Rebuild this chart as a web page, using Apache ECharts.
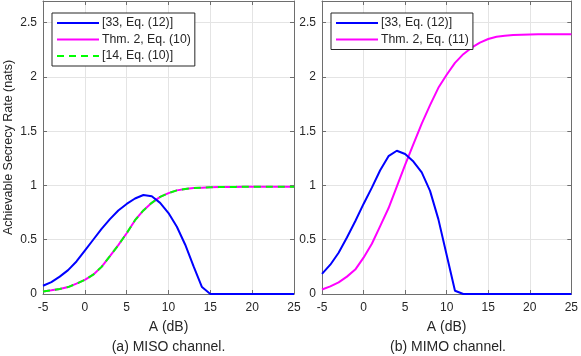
<!DOCTYPE html>
<html>
<head>
<meta charset="utf-8">
<script src="https://cdn.jsdelivr.net/npm/echarts@6/dist/echarts.min.js"></script>
<style>
  html, body { margin: 0; padding: 0; background: #fff; }
  #chart { width: 581px; height: 356px; }
</style>
</head>
<body>
<div id="chart"></div>
<script>
// A (dB) sample points
const snrDb = [-5, -4, -3, -2, -1, 0, 1, 2, 3, 4, 5, 6, 7, 8, 9, 10,
  11, 12, 13, 14, 15, 16, 17, 18, 19, 20, 21, 22, 23, 24, 25];

// (a) MISO channel
const misoRef33 = [0.076, 0.11, 0.16, 0.22, 0.30, 0.40, 0.50, 0.60, 0.69, 0.77, 0.83,
  0.88, 0.912, 0.90, 0.84, 0.746, 0.62, 0.454, 0.254, 0.064, 0,
  0, 0, 0, 0, 0, 0, 0, 0, 0, 0];
const misoThm2 = [0.024, 0.034, 0.046, 0.064, 0.095, 0.13, 0.178, 0.25, 0.35, 0.45, 0.56,
  0.68, 0.77, 0.84, 0.895, 0.93, 0.955, 0.968, 0.976, 0.98, 0.983,
  0.985, 0.986, 0.987, 0.988, 0.988, 0.988, 0.988, 0.988, 0.988, 0.988];
const misoRef14 = misoThm2.slice();

// (b) MIMO channel
const mimoRef33 = [0.185, 0.27, 0.38, 0.52, 0.67, 0.83, 0.98, 1.14, 1.27, 1.32, 1.29,
  1.22, 1.12, 0.95, 0.69, 0.36, 0.03, 0, 0, 0, 0,
  0, 0, 0, 0, 0, 0, 0, 0, 0, 0];
const mimoThm2 = [0.042, 0.07, 0.107, 0.16, 0.225, 0.335, 0.463, 0.626, 0.79, 0.99, 1.19,
  1.38, 1.57, 1.74, 1.90, 2.02, 2.13, 2.21, 2.27, 2.317, 2.35,
  2.37, 2.38, 2.387, 2.39, 2.392, 2.393, 2.393, 2.393, 2.393, 2.393];

const yTicks = ['0', '0.5', '1', '1.5', '2', '2.5'];
const captions = ['(a) MISO channel.', '(b) MIMO channel.'];

const FONT = 'Liberation Sans';
const TXT = '#262626';
const AXIS = '#6e6e6e';

const chart = echarts.init(document.getElementById('chart'));

const pairs = ys => snrDb.map((x, i) => [x, ys[i]]);

const grids = [
  { left: 43, top: 1, width: 251, height: 293 },
  { left: 322, top: 1, width: 252, height: 293 }
];

function xAxisFor(gi, top) {
  return {
    type: 'value', gridIndex: gi, min: -5, max: 25, interval: 5,
    position: top ? 'top' : 'bottom',
    name: top ? '' : 'A (dB)',
    nameLocation: 'middle', nameGap: 26,
    nameTextStyle: { fontFamily: FONT, fontSize: 14, color: TXT },
    axisLine: { show: true, onZero: false, lineStyle: { color: AXIS, width: 1 } },
    axisTick: { show: true, inside: true, length: 4, lineStyle: { color: AXIS } },
    axisLabel: { show: !top, fontFamily: FONT, fontSize: 12, color: TXT, margin: 8 },
    splitLine: { show: !top, lineStyle: { color: '#e4e4e4', width: 1 } }
  };
}

function yAxisFor(gi, right) {
  return {
    type: 'value', gridIndex: gi, min: 0, max: 2.7, interval: 0.5,
    position: right ? 'right' : 'left',
    name: (!right && gi === 0) ? 'Achievable Secrecy Rate (nats)' : '',
    nameLocation: 'middle', nameGap: 28,
    nameTextStyle: { fontFamily: FONT, fontSize: 12.5, color: TXT },
    axisLine: { show: true, onZero: false, lineStyle: { color: AXIS, width: 1 } },
    axisTick: { show: true, inside: true, length: 4, lineStyle: { color: AXIS } },
    axisLabel: {
      show: !right, fontFamily: FONT, fontSize: 12, color: TXT, margin: 6,
      showMaxLabel: false,
      formatter: v => yTicks.indexOf(String(v)) >= 0 ? String(v) : ''
    },
    splitLine: { show: !right, lineStyle: { color: '#e4e4e4', width: 1 } }
  };
}

function lineSeries(name, data, color, xi, yi, dashed, z) {
  return {
    name, type: 'line', data: pairs(data), xAxisIndex: xi, yAxisIndex: yi,
    symbol: 'none', smooth: false, z: z || 2,
    lineStyle: { color, width: 2, type: dashed ? [7, 5] : 'solid' },
    itemStyle: { color },
    emphasis: { disabled: true }
  };
}

const legendBase = {
  orient: 'vertical', itemWidth: 42, itemHeight: 12, itemGap: 4.5,
  padding: [4, 4, 4, 4],
  backgroundColor: '#fff', borderColor: '#262626', borderWidth: 1,
  itemStyle: { opacity: 0 },
  textStyle: { fontFamily: FONT, fontSize: 12.3, color: TXT, padding: [0, 0, 0, -2] },
  selectedMode: false
};

chart.setOption({
  animation: false,
  title: captions.map((t, i) => ({
    text: t, left: grids[i].left + grids[i].width / 2, top: 339, padding: 0,
    textAlign: 'center',
    textStyle: { fontFamily: FONT, fontSize: 14, lineHeight: 16, fontWeight: 'normal', color: TXT }
  })),
  grid: grids,
  xAxis: [xAxisFor(0, false), xAxisFor(1, false), xAxisFor(0, true), xAxisFor(1, true)],
  yAxis: [yAxisFor(0, false), yAxisFor(1, false), yAxisFor(0, true), yAxisFor(1, true)],
  legend: [
    Object.assign({}, legendBase, {
      left: 52, top: 13,
      data: ['[33, Eq. (12)]', 'Thm. 2, Eq. (10)', '[14, Eq. (10)]']
    }),
    Object.assign({}, legendBase, {
      left: 331, top: 13,
      data: ['[33, Eq. (12)]', 'Thm. 2, Eq. (11)']
    })
  ],
  series: [
    lineSeries('[33, Eq. (12)]', misoRef33, '#0000ff', 0, 0, false, 3),
    lineSeries('Thm. 2, Eq. (10)', misoThm2, '#ff00ff', 0, 0, false, 2),
    lineSeries('[14, Eq. (10)]', misoRef14, '#00ff00', 0, 0, true, 2.5),
    lineSeries('[33, Eq. (12)]', mimoRef33, '#0000ff', 1, 1, false, 3),
    lineSeries('Thm. 2, Eq. (11)', mimoThm2, '#ff00ff', 1, 1, false, 2)
  ]
});
</script>
</body>
</html>
